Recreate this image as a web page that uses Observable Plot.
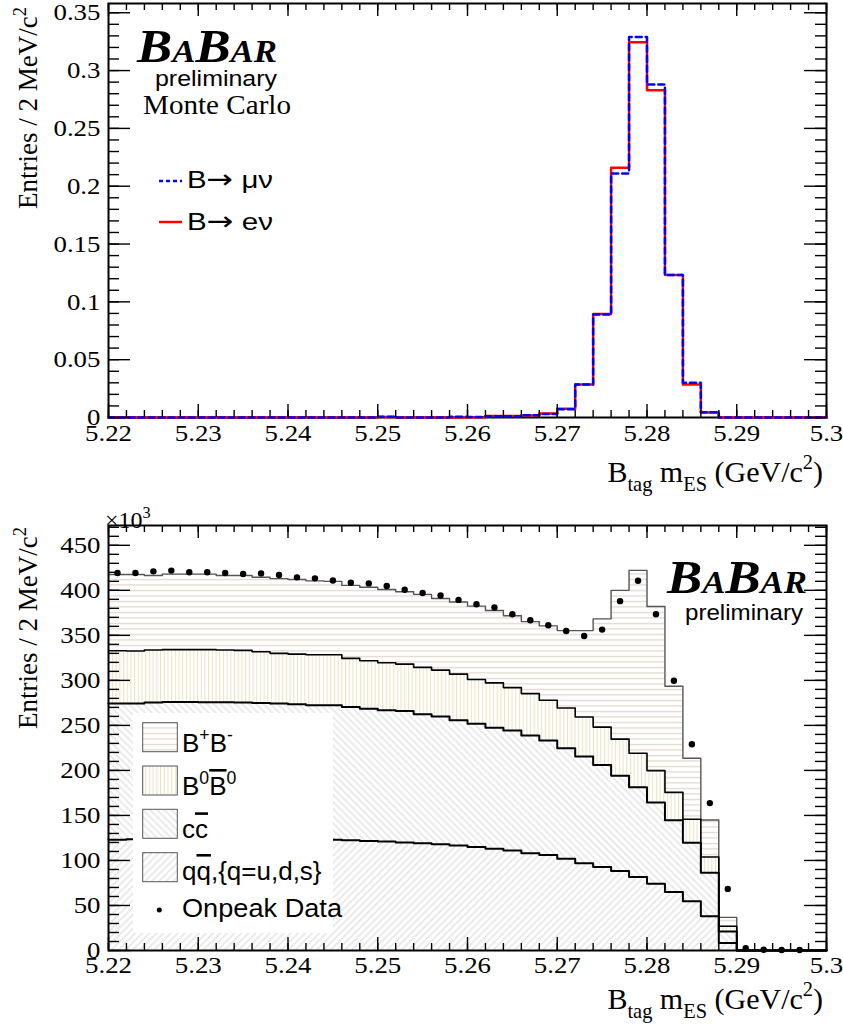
<!DOCTYPE html>
<html><head><meta charset="utf-8">
<script src="https://cdn.jsdelivr.net/npm/d3@7"></script>
<script src="https://cdn.jsdelivr.net/npm/@observablehq/plot@0.6"></script>
<style>
body{margin:0;background:#fff;}
#chart{width:843px;}
#chart svg{display:block;}
</style></head><body><div id="chart"></div>
<script>
// ---------------- data ----------------
const binWidth = 0.002;
const binLow = d3.range(40).map(i => Math.round((5.22 + binWidth * i) * 1000) / 1000);

const xMajor = [5.22, 5.23, 5.24, 5.25, 5.26, 5.27, 5.28, 5.29, 5.30];
const xMajorLabels = ["5.22", "5.23", "5.24", "5.25", "5.26", "5.27", "5.28", "5.29", "5.3"];
const xMinor = binLow.concat([5.30]);

const topYMajor = [0, 0.05, 0.1, 0.15, 0.2, 0.25, 0.3, 0.35];
const topYLabels = ["0", "0.05", "0.1", "0.15", "0.2", "0.25", "0.3", "0.35"];
const topYMinor = d3.range(0, 36).map(i => i / 100);

const botYMajor = [0, 50, 100, 150, 200, 250, 300, 350, 400, 450];
const botYLabels = ["0", "50", "100", "150", "200", "250", "300", "350", "400", "450"];
const botYMinor = d3.range(0, 471, 10);

// top panel: B -> mu nu (blue dashed), B -> e nu (red)
const muNu = [0,0,0,0,0, 0,0,0,0,0, 0,0,0,0,0,
  0.0007,0,0,0,0.0007, 0.0004,0.0010,0.0011,0.0020,0.0030,
  0.0072,0.0286,0.0890,0.211,0.329, 0.288,0.1233,0.0300,0.0045,0,
  0,0,0,0,0];
const eNu = [0,0,0,0,0, 0,0,0,0,0, 0,0,0,0,0,
  0.0004,0,0,0,0, 0.0003,0.0012,0.0013,0.0018,0.0035,
  0.0075,0.0286,0.0895,0.216,0.3245, 0.283,0.1233,0.0286,0.0043,0,
  0,0,0,0,0];

// bottom panel (x10^3 entries): stacked components, bottom to top
const qqbar = [123,123.5,124,124.5,125, 125,125,124.5,124,124,
  123.5,123,123,122.5,121.5, 121,120,119,118,116.5,
  115,113,111,108,106, 102,97,92.6,88.2,81.5,
  74,65.1,54.7,37.9,8.2, 0,0,0,0,0];
const ccbar = [151.2,150.7,151.3,151.5,151, 150.7,150.7,150.8,150.9,150.2,
  149.9,149.3,149.3,148,147.1, 145.7,146,143.3,142,139.1,
  136.9,134.4,133.4,130.8,127.3, 122.5,118.4,113.5,106,99.7,
  90.4,79.6,65.1,48.4,12.8, 0,0,0,0,0];
const b0b0bar = [58.7,58.4,58.4,58.1,58.1, 58.4,58,58,56.9,55.8,
  55.8,56.2,56.2,53.9,53.2, 52.9,52.1,52.1,51.4,51.3,
  49.1,49.8,47.6,46.5,44.6, 44.8,43.9,42,40.5,37.9,
  35.4,30.9,26,17.5,6, 0,0,0,0,0];
const bpbm = [84.6,84.9,82.8,83.9,83.9, 83.9,82.8,83.2,82.7,83,
  82.8,82,81.5,81.1,81.7, 81.4,80.4,81.1,79.6,80.1,
  81.5,80.4,79.7,80,82.6, 86,96,120.2,165.3,203.1,
  182.2,117.9,67.7,41.2,9.8, 0,0,0,0,0];
const onpeak = [419.3,419.3,421.1,421.9,420, 420,419.3,418.1,418.8,417,
  414.4,413.3,411,408.5,407.7, 404.8,400.7,397,394.2,389.4,
  384.6,381,373.5,366.8,361.2, 354.9,349.3,356.4,388,410.7,
  373.5,299.5,229,163.7,68.4, 2.5,0.8,0.6,0.5];

// ---------------- helpers ----------------
const W = 843, mL = 108, mR = 17;
const topH = 500, topMT = 3, topMB = 83;
const botH = 529, botMT = 25, botMB = 79;
const fw = W - mL - mR;
const SERIF = "'Liberation Serif','Times New Roman',serif";
const SANS = "'Liberation Sans',Arial,Helvetica,sans-serif";

function stepPoints(vals) {
  const pts = [];
  vals.forEach((v, i) => { pts.push({x: binLow[i], y: v}); pts.push({x: binLow[i] + binWidth, y: v}); });
  return pts;
}
function bandPoints(lo, hi) {
  const pts = [];
  lo.forEach((l, i) => { pts.push({x: binLow[i], lo: l, hi: hi[i]}); pts.push({x: binLow[i] + binWidth, lo: l, hi: hi[i]}); });
  return pts;
}
function tickMarks(yMaj, yMin, fh) {
  const s = {stroke: "black", strokeWidth: 1.4};
  return [
    Plot.tickX(xMinor, {x: d => d, insetTop: fh - 7, ...s}),
    Plot.tickX(xMinor, {x: d => d, insetBottom: fh - 7, ...s}),
    Plot.tickX(xMajor, {x: d => d, insetTop: fh - 13, ...s}),
    Plot.tickX(xMajor, {x: d => d, insetBottom: fh - 13, ...s}),
    Plot.tickY(yMin, {y: d => d, insetRight: fw - 11, ...s}),
    Plot.tickY(yMin, {y: d => d, insetLeft: fw - 11, ...s}),
    Plot.tickY(yMaj, {y: d => d, insetRight: fw - 22, ...s}),
    Plot.tickY(yMaj, {y: d => d, insetLeft: fw - 22, ...s})
  ];
}
// widen tick labels slightly, as in the original rendering
function widenTickLabels(svg) {
  d3.select(svg).selectAll("g[aria-label$='tick label'] text").each(function () {
    const t = this.getAttribute("transform") || "";
    this.setAttribute("transform", t + " scale(1.12,1)");
  });
}
function txt(sel, x, y, str, attrs) {
  const t = sel.append("text").attr("x", x).attr("y", y).attr("text-anchor", "start").text(str);
  Object.entries(attrs || {}).forEach(([k, v]) => t.attr(k, v));
  return t;
}
function rich(sel, x, y, parts, attrs) {
  const t = sel.append("text").attr("x", x).attr("y", y).attr("text-anchor", "start");
  Object.entries(attrs || {}).forEach(([k, v]) => t.attr(k, v));
  const fs = parseFloat(attrs["font-size"]);
  let shift = 0;
  parts.forEach(p => {
    const sp = t.append("tspan").text(p.t);
    let target = 0;
    if (p.sub) { sp.attr("font-size", fs * 0.68); target = fs * 0.3; }
    if (p.sup) { sp.attr("font-size", fs * 0.68); target = -fs * 0.42; }
    if (p.fs) sp.attr("font-size", p.fs);
    if (p.ff) sp.attr("font-family", p.ff);
    if (p.over) sp.attr("text-decoration", "overline");
    if (target !== shift) { sp.attr("dy", target - shift); shift = target; }
  });
  return t;
}

// ---------------- top panel ----------------
const fhTop = topH - topMT - topMB;
const topPlot = Plot.plot({
  width: W, height: topH,
  marginLeft: mL, marginRight: mR, marginTop: topMT, marginBottom: topMB,
  style: {fontFamily: SERIF, fontSize: "24px", color: "black", background: "white", overflow: "visible"},
  x: {domain: [5.22, 5.30]},
  y: {domain: [0, 0.358]},
  marks: [
    Plot.frame({stroke: "black", strokeWidth: 2}),
    Plot.line(stepPoints(eNu), {x: "x", y: "y", stroke: "#ff0000", strokeWidth: 2.5}),
    Plot.line(stepPoints(muNu), {x: "x", y: "y", stroke: "#0000ff", strokeWidth: 2.5, strokeDasharray: "6,4"}),
    ...tickMarks(topYMajor, topYMinor, fhTop),
    Plot.axisX(xMajor, {tickSize: 0, tickPadding: 6, tickFormat: d => xMajorLabels[xMajor.indexOf(d)], label: null}),
    Plot.axisY(topYMajor, {tickSize: 0, tickPadding: 8, tickFormat: d => topYLabels[topYMajor.indexOf(d)], label: null})
  ]
});
widenTickLabels(topPlot);
document.getElementById("chart").appendChild(topPlot);
{
  const s = d3.select(topPlot);
  rich(s, 137, 62, [{t: "B", fs: 47}, {t: "A", fs: 31}, {t: "B", fs: 47}, {t: "AR", fs: 31}],
    {"font-family": SERIF, "font-size": "47px", "font-weight": "bold", "font-style": "italic", "textLength": 140, "lengthAdjust": "spacingAndGlyphs"});
  txt(s, 155, 86, "preliminary", {"font-family": SANS, "font-size": 22, "textLength": 122, "lengthAdjust": "spacingAndGlyphs"});
  txt(s, 143, 114, "Monte Carlo", {"font-family": SERIF, "font-size": 27, "textLength": 148, "lengthAdjust": "spacingAndGlyphs"});
  // legend
  s.append("line").attr("x1", 159).attr("x2", 182).attr("y1", 181).attr("y2", 181)
    .attr("stroke", "#0000ff").attr("stroke-width", 2.5).attr("stroke-dasharray", "4,3");
  rich(s, 187, 188, [{t: "B"}, {t: "\u2192", ff: "'DejaVu Sans',sans-serif", fs: 26}, {t: " \u03bc\u03bd"}],
    {"font-family": SANS, "font-size": "24px", "textLength": 86, "lengthAdjust": "spacingAndGlyphs"});
  s.append("line").attr("x1", 159).attr("x2", 182).attr("y1", 222).attr("y2", 222)
    .attr("stroke", "#ff0000").attr("stroke-width", 2.5);
  rich(s, 187, 230, [{t: "B"}, {t: "\u2192", ff: "'DejaVu Sans',sans-serif", fs: 26}, {t: " e\u03bd"}],
    {"font-family": SANS, "font-size": "24px", "textLength": 86, "lengthAdjust": "spacingAndGlyphs"});
  // axis titles
  const yt = rich(s, 0, 0, [{t: "Entries / 2 MeV/c"}, {t: "2", sup: true}], {"font-family": SERIF, "font-size": "27px", "text-anchor": "end"});
  yt.attr("transform", "translate(37,7) rotate(-90)");
  rich(s, 823, 482, [{t: "B"}, {t: "tag", sub: true}, {t: " m"}, {t: "ES", sub: true}, {t: " (GeV/c"}, {t: "2", sup: true}, {t: ")"}],
    {"font-family": SERIF, "font-size": "30px", "text-anchor": "end"});
}

// ---------------- bottom panel ----------------
const fhBot = botH - botMT - botMB;
const comps = [
  {name: "qq", vals: qqbar, fill: "url(#hatchQQ)", line: "black", lw: 2},
  {name: "cc", vals: ccbar, fill: "url(#hatchCC)", line: "black", lw: 2},
  {name: "b0", vals: b0b0bar, fill: "url(#hatchB0)", line: "black", lw: 1.6},
  {name: "bpbm", vals: bpbm, fill: "url(#hatchBB)", line: "#555", lw: 1.4}
];
let base = binLow.map(() => 0);
comps.forEach(c => { c.lo = base.slice(); c.hi = base.map((b, i) => b + c.vals[i]); base = c.hi; });

const defsMark = () => {
  const defs = d3.create("svg:defs");
  const pat = (id, w, h, rot, draw) => {
    const p = defs.append("pattern").attr("id", id).attr("patternUnits", "userSpaceOnUse").attr("width", w).attr("height", h);
    if (rot) p.attr("patternTransform", `rotate(${rot})`);
    p.append("rect").attr("width", w).attr("height", h).attr("fill", "white");
    draw(p);
  };
  pat("hatchBB", 10, 5.5, 0, p => p.append("line").attr("x1", 0).attr("x2", 10).attr("y1", 2.5).attr("y2", 2.5).attr("stroke", "#ddcdbe").attr("stroke-width", 1));
  pat("hatchB0", 3.7, 10, 0, p => p.append("line").attr("x1", 1.5).attr("x2", 1.5).attr("y1", 0).attr("y2", 10).attr("stroke", "#e9e2c0").attr("stroke-width", 1));
  pat("hatchCC", 5, 10, -45, p => p.append("line").attr("x1", 2).attr("x2", 2).attr("y1", 0).attr("y2", 10).attr("stroke", "#d6d6d6").attr("stroke-width", 1));
  pat("hatchQQ", 5, 10, 45, p => p.append("line").attr("x1", 2).attr("x2", 2).attr("y1", 0).attr("y2", 10).attr("stroke", "#d6d6d6").attr("stroke-width", 1));
  return defs.node();
};

const binCenters = binLow.map(b => b + binWidth / 2);
const dataPts = onpeak.map((v, i) => ({x: binCenters[i], y: v}));

const botPlot = Plot.plot({
  width: W, height: botH,
  marginLeft: mL, marginRight: mR, marginTop: botMT, marginBottom: botMB,
  style: {fontFamily: SERIF, fontSize: "24px", color: "black", background: "white", overflow: "visible"},
  x: {domain: [5.22, 5.30]},
  y: {domain: [0, 472]},
  marks: [
    defsMark,
    ...comps.map(c => Plot.area(bandPoints(c.lo, c.hi), {x1: "x", y1: "lo", y2: "hi", fill: c.fill, curve: "linear"})),
    ...comps.slice().reverse().map(c => Plot.line(stepPoints(c.hi), {x: "x", y: "y", stroke: c.line, strokeWidth: c.lw})),
    Plot.dot(dataPts, {x: "x", y: "y", r: 3.2, fill: "black"}),
    Plot.frame({stroke: "black", strokeWidth: 2}),
    ...tickMarks(botYMajor, botYMinor, fhBot),
    Plot.axisX(xMajor, {tickSize: 0, tickPadding: 5, tickFormat: d => xMajorLabels[xMajor.indexOf(d)], label: null}),
    Plot.axisY(botYMajor, {tickSize: 0, tickPadding: 8, tickFormat: d => botYLabels[botYMajor.indexOf(d)], label: null})
  ]
});
widenTickLabels(botPlot);
document.getElementById("chart").appendChild(botPlot);
{
  const s = d3.select(botPlot);
  const off = 500;
  rich(s, 105, 528 - off, [{t: "\u00d710"}, {t: "3", sup: true}], {"font-family": SERIF, "font-size": "24px"});
  rich(s, 667, 593 - off, [{t: "B", fs: 47}, {t: "A", fs: 31}, {t: "B", fs: 47}, {t: "AR", fs: 31}],
    {"font-family": SERIF, "font-size": "47px", "font-weight": "bold", "font-style": "italic", "textLength": 140, "lengthAdjust": "spacingAndGlyphs"});
  txt(s, 685, 620 - off, "preliminary", {"font-family": SANS, "font-size": 22, "textLength": 118, "lengthAdjust": "spacingAndGlyphs"});
  // legend
  const lg = s.append("g");
  lg.append("rect").attr("x", 133).attr("y", 713 - off).attr("width", 200).attr("height", 220).attr("fill", "white");
  const entries = [
    {fill: "url(#hatchBB)", y: 722.7, base: 751.7, parts: [{t: "B"}, {t: "+", sup: true}, {t: "B"}, {t: "-", sup: true}]},
    {fill: "url(#hatchB0)", y: 766, base: 795, parts: [{t: "B"}, {t: "0", sup: true}, {t: "B", over: true}, {t: "0", sup: true}]},
    {fill: "url(#hatchCC)", y: 809.3, base: 838.3, parts: [{t: "c"}, {t: "c", over: true}]},
    {fill: "url(#hatchQQ)", y: 852.7, base: 880, parts: [{t: "q"}, {t: "q", over: true}, {t: ",{q=u,d,s}"}]}
  ];
  entries.forEach(e => {
    lg.append("rect").attr("x", 142.7).attr("y", e.y - off).attr("width", 34.6).attr("height", 29)
      .attr("fill", e.fill).attr("stroke", "#555").attr("stroke-width", 1);
    rich(lg, 182, e.base - off, e.parts, {"font-family": SANS, "font-size": "26px"});
  });
  lg.append("circle").attr("cx", 159.3).attr("cy", 910 - off).attr("r", 2.5).attr("fill", "black");
  txt(lg, 182, 917.3 - off, "Onpeak Data", {"font-family": SANS, "font-size": 26, "textLength": 160, "lengthAdjust": "spacingAndGlyphs"});
  const yt = rich(s, 0, 0, [{t: "Entries / 2 MeV/c"}, {t: "2", sup: true}], {"font-family": SERIF, "font-size": "27px", "text-anchor": "end"});
  yt.attr("transform", `translate(37,${527 - off}) rotate(-90)`);
  rich(s, 823, 1009 - off, [{t: "B"}, {t: "tag", sub: true}, {t: " m"}, {t: "ES", sub: true}, {t: " (GeV/c"}, {t: "2", sup: true}, {t: ")"}],
    {"font-family": SERIF, "font-size": "30px", "text-anchor": "end"});
}
</script>
</body></html>
